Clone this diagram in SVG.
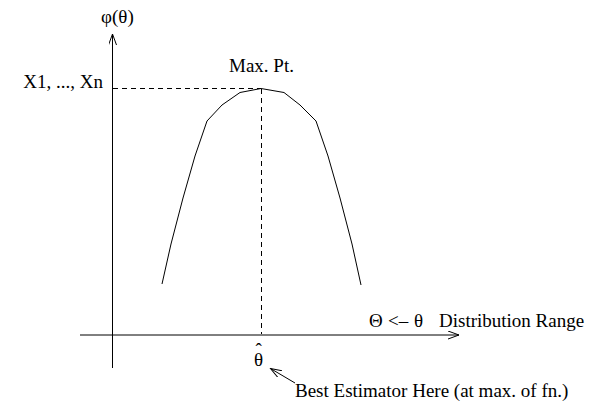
<svg xmlns="http://www.w3.org/2000/svg" width="589" height="404" viewBox="0 0 589 404">
<style>
text{font-family:"Liberation Serif","Times New Roman",serif;font-size:19px;fill:#000}
.ax{stroke:#000;stroke-width:1;fill:none}
.dash{stroke:#000;stroke-width:1;fill:none;stroke-dasharray:5 4}
.curve{stroke:#000;stroke-width:1;fill:none;stroke-linejoin:round}
</style>
<defs>
<marker id="open" markerWidth="12" markerHeight="10" refX="11" refY="4" orient="auto" markerUnits="userSpaceOnUse">
<path d="M0,0 L11,4 L0,8" fill="none" stroke="#000" stroke-width="1"/>
</marker>
</defs>
<rect width="589" height="404" fill="#fff"/>
<g id="connectors">
<line id="y-axis" class="ax" x1="112.5" y1="368" x2="112.5" y2="34" marker-end="url(#open)"/>
<line id="x-axis" class="ax" x1="80" y1="335" x2="459" y2="335" marker-end="url(#open)"/>
<line class="dash" x1="113" y1="88.5" x2="261" y2="88.5"/>
<line class="dash" x1="261.5" y1="89" x2="261.5" y2="334"/>
<line id="pointer" class="ax" x1="295" y1="383" x2="270.5" y2="368.5" marker-end="url(#open)"/>
</g>
<g id="curve">
<polyline class="curve" points="162,284 171,244 183,198 195,156 207,121 222,105 240,92.5 261,88.5 284,92.5 300,105 316,121 328,156 340,198 352,244 361,285"/>
</g>
<g id="labels">
<text x="101" y="23">φ(θ)</text>
<text x="103" y="88" text-anchor="end">X1, ..., Xn</text>
<text x="229" y="72">Max. Pt.</text>
<text y="327"><tspan x="369">Θ</tspan><tspan x="388">&lt;–</tspan><tspan x="414">θ</tspan><tspan x="439">Distribution Range</tspan></text>
<text y="366"><tspan x="254">θ</tspan><tspan x="255.5" y="356">ˆ</tspan></text>
<text x="295" y="397">Best Estimator Here (at max. of fn.)</text>
</g>
</svg>
